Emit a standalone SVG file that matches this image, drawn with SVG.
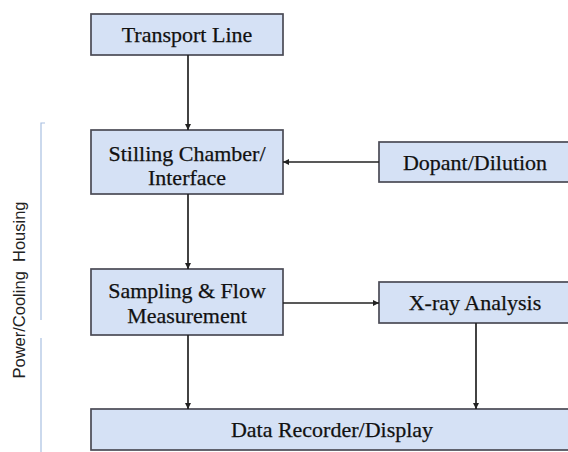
<svg xmlns="http://www.w3.org/2000/svg" width="568" height="452" viewBox="0 0 568 452">
<style>
.box{fill:#d5e1f5;stroke:#4a4a55;stroke-width:1.7}
.t{font-family:"Liberation Serif","Times New Roman",serif;font-size:22px;fill:#111;stroke:#111;stroke-width:0.25;text-anchor:middle}
.c{stroke:#222;stroke-width:1.7;fill:none}
.side{font-family:"Liberation Sans",Arial,sans-serif;font-size:16.5px;fill:#222;text-anchor:middle}
</style>
<defs>
<marker id="ah" viewBox="0 0 10 10" refX="10" refY="5" markerWidth="7" markerHeight="6" orient="auto" markerUnits="userSpaceOnUse">
<path d="M0,0 L10,5 L0,10 z" fill="#222"/>
</marker>
</defs>
<rect width="568" height="452" fill="#fff"/>
<g id="housing">
<path d="M45,123 L41,123 L41,320 M41,338 L41,452" stroke="#a9c0e2" stroke-width="1.2" fill="none"/>
<text class="side" transform="translate(25,290) rotate(-90)" xml:space="preserve">Power/Cooling  Housing</text>
</g>
<g id="transport"><rect class="box" x="91" y="14" width="192" height="41"/><text class="t" x="187" y="42">Transport Line</text></g>
<g id="stilling"><rect class="box" x="91" y="130" width="192" height="64"/><text class="t" x="187" y="161">Stilling Chamber/</text><text class="t" x="187" y="185">Interface</text></g>
<g id="dopant"><rect class="box" x="379" y="142" width="193" height="40"/><text class="t" x="475" y="170">Dopant/Dilution</text></g>
<g id="sampling"><rect class="box" x="91" y="269" width="192" height="66"/><text class="t" x="187" y="298">Sampling &amp; Flow</text><text class="t" x="187" y="323">Measurement</text></g>
<g id="xray"><rect class="box" x="379" y="282" width="193" height="41"/><text class="t" x="475" y="310">X-ray Analysis</text></g>
<g id="recorder"><rect class="box" x="91" y="409" width="481" height="41"/><text class="t" x="332" y="437">Data Recorder/Display</text></g>
<g id="connectors">
<line class="c" x1="188" y1="55" x2="188" y2="130" marker-end="url(#ah)"/>
<line class="c" x1="379" y1="162" x2="283" y2="162" marker-end="url(#ah)"/>
<line class="c" x1="188" y1="194" x2="188" y2="269" marker-end="url(#ah)"/>
<line class="c" x1="283" y1="303" x2="379" y2="303" marker-end="url(#ah)"/>
<line class="c" x1="188" y1="335" x2="188" y2="409" marker-end="url(#ah)"/>
<line class="c" x1="476" y1="323" x2="476" y2="409" marker-end="url(#ah)"/>
</g>
</svg>
